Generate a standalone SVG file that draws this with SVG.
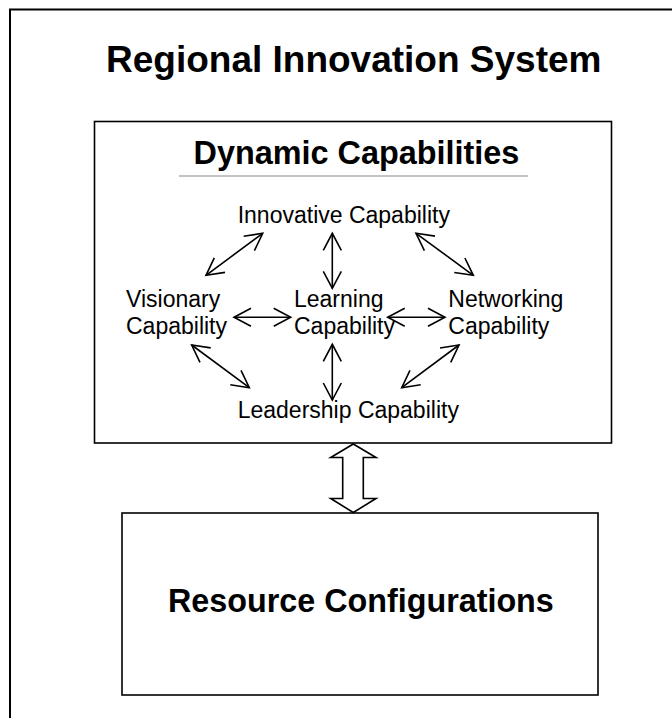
<svg xmlns="http://www.w3.org/2000/svg" width="672" height="718" viewBox="0 0 672 718">
  <style>
    .frame { fill: none; stroke: #000; stroke-width: 2; }
    .box { fill: #fff; stroke: #000; stroke-width: 1.6; }
    .head { font-family: "Liberation Sans", Arial, sans-serif; font-weight: bold; fill: #000; }
    .cap { font-family: "Liberation Sans", Arial, sans-serif; font-size: 23px; fill: #000; }
    .link { stroke: #000; stroke-width: 1.6; fill: none; marker-start: url(#open); marker-end: url(#open); }
  </style>
  <defs>
    <marker id="open" markerUnits="userSpaceOnUse" viewBox="-20 -12 24 24" markerWidth="24" markerHeight="24" refX="0" refY="0" orient="auto-start-reverse">
      <path d="M-17,-9 L0,0 L-17,9" fill="none" stroke="#000" stroke-width="1.6"/>
    </marker>
  </defs>

  <!-- outer system frame, runs past the right and bottom edges -->
  <g id="regional-innovation-system">
    <rect class="frame" x="10" y="9.5" width="700" height="740"/>
    <text class="head" x="106" y="71.5" font-size="37">Regional Innovation System</text>
  </g>

  <!-- dynamic capabilities panel -->
  <g id="dynamic-capabilities">
    <rect class="box" x="94.5" y="121.5" width="517" height="321.5"/>
    <text class="head" x="193.5" y="164" font-size="32.4">Dynamic Capabilities</text>
    <line x1="179" y1="176" x2="528" y2="176" stroke="#888" stroke-width="1"/>
  </g>

  <g id="innovative">
    <text class="cap" x="237.7" y="222.7">Innovative Capability</text>
  </g>
  <g id="visionary">
    <text class="cap" x="126" y="306.7">Visionary</text>
    <text class="cap" x="126" y="334.3">Capability</text>
  </g>
  <g id="learning">
    <text class="cap" x="294" y="306.7">Learning</text>
    <text class="cap" x="294" y="334.3">Capability</text>
  </g>
  <g id="networking">
    <text class="cap" x="448.3" y="306.7">Networking</text>
    <text class="cap" x="448.3" y="334.3">Capability</text>
  </g>
  <g id="leadership">
    <text class="cap" x="237.7" y="417.7">Leadership Capability</text>
  </g>

  <!-- resource configurations panel -->
  <g id="resource-configurations">
    <rect class="box" x="122" y="513" width="476" height="182"/>
    <text class="head" x="168" y="611.7" font-size="32.3">Resource Configurations</text>
  </g>

  <!-- two-way links between the capabilities -->
  <g id="connectors">
    <line class="link" x1="206" y1="275.3" x2="262.7" y2="233.3"/>
    <line class="link" x1="332.3" y1="233.3" x2="332.3" y2="288.3"/>
    <line class="link" x1="416" y1="233.3" x2="473.3" y2="275.3"/>
    <line class="link" x1="234" y1="317.3" x2="290.7" y2="317.3"/>
    <line class="link" x1="387.7" y1="317.3" x2="445" y2="317.3"/>
    <line class="link" x1="191.7" y1="345" x2="249.3" y2="387.7"/>
    <line class="link" x1="332.3" y1="344.3" x2="332.3" y2="400"/>
    <line class="link" x1="459" y1="345" x2="401.7" y2="387.7"/>
    <!-- block double arrow between the two panels -->
    <polygon points="353.3,444 376,457.5 363.3,457.5 363.3,498.5 376,498.5 353.3,512.5 330.7,498.5 342.7,498.5 342.7,457.5 330.7,457.5" fill="#fff" stroke="#000" stroke-width="1.6" stroke-linejoin="miter"/>
  </g>
</svg>
